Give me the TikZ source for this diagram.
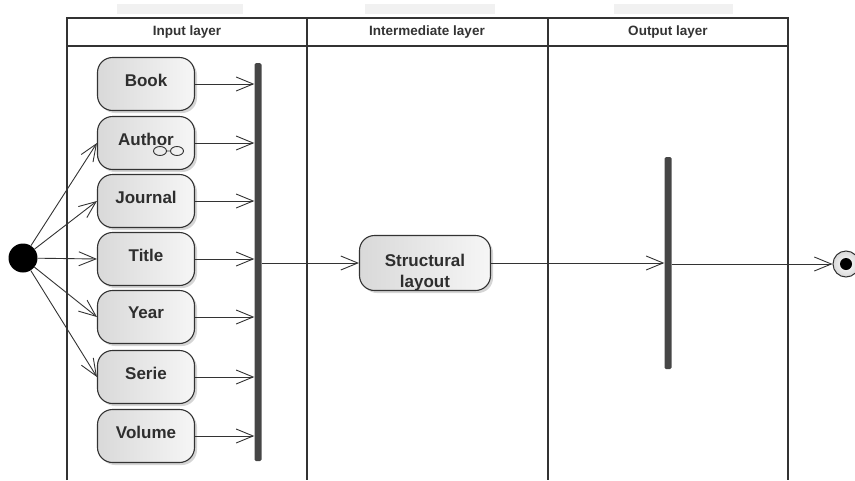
\documentclass[tikz,border=0pt]{standalone}
\usepackage{fontspec}
\setmainfont{Liberation Sans}
\usepackage{tikz}
\usetikzlibrary{arrows.meta, positioning, calc, shadows}
\usepackage{xcolor}
\definecolor{frame}{HTML}{333333}
\definecolor{barcol}{HTML}{464646}
\definecolor{tabgray}{HTML}{F1F1F1}

\begin{document}
\begin{tikzpicture}[x=1pt, y=-1pt,
      act/.style={draw=frame, line width=1.1pt, rounded corners=15pt, left color=gray!30, right color=gray!7,
        minimum width=97pt, minimum height=53pt, text depth=8pt, text=black!82,
        font=\fontsize{17}{21}\selectfont\bfseries,
        drop shadow={shadow xshift=2.5pt, shadow yshift=-2.5pt, fill=gray!55, opacity=0.6}},
      flow/.style={draw=frame, line width=0.9pt, -{Straight Barb[length=17pt, width=14pt, line width=0.9pt]}},
      sync/.style={fill=barcol, rounded corners=1.5pt, minimum width=7pt, inner sep=0pt},
      lane/.style={draw=frame, line width=1.3pt},
      lanetitle/.style={font=\fontsize{13.5}{15}\selectfont\bfseries, text=black!80}
    ]
      \useasboundingbox (0,0) rectangle (855,480);
      % faint tabs above the lanes
      \fill[tabgray] (117,4) rectangle (243,14);
      \fill[tabgray] (365,4) rectangle (495,14);
      \fill[tabgray] (614,4) rectangle (733,14);

      % swimlanes
      \draw[lane] (67,480) -- (67,18) -- (788,18) -- (788,480);
      \draw[lane] (67,46) -- (788,46);
      \draw[lane] (307,18) -- (307,480);
      \draw[lane] (548,18) -- (548,480);
      \node[lanetitle] (lin) at (187,32) {Input layer};
      \node[lanetitle] (lmid) at (427,32) {Intermediate layer};
      \node[lanetitle] (lout) at (668,32) {Output layer};

      % input activities
      \node[act] (book) at (146,84) {Book};
      \node[act] (author) at (146,143) {Author};
      \node[act] (journal) at (146,201) {Journal};
      \node[act] (title) at (146,259) {Title};
      \node[act] (year) at (146,317) {Year};
      \node[act] (serie) at (146,377) {Serie};
      \node[act] (volume) at (146,436) {Volume};
      \draw[frame, line width=0.9pt] ($(author)+(14,8)$) ellipse (6.5 and 4.5) ($(author)+(31,8)$) ellipse (6.5 and 4.5)
        ($(author)+(20.5,8)$) -- ($(author)+(24.5,8)$);

      \node[sync, minimum height=398pt] (inbar) at (258,262) {};
      \node[act, minimum width=131pt, minimum height=55pt, text depth=0pt] (layout) at (425,263)
        {\raisebox{-3pt}{\begin{tabular}{@{}c@{}}Structural\\layout\end{tabular}}};
      \node[sync, minimum height=212pt] (outbar) at (668,263) {};

      \node[circle, fill=black, minimum size=29pt, inner sep=0pt] (start) at (23,258) {};
      \node[circle, draw=frame, line width=1pt, inner color=white, outer color=gray!30, minimum size=26pt, inner sep=0pt] (stop) at (846,264) {};
      \fill[black] (stop) circle (6);

      % flows
      \draw[flow] (start) -- (author.west);
      \draw[flow] (start) -- (journal.west);
      \draw[flow] (start) -- (title.west);
      \draw[flow] (start) -- (year.west);
      \draw[flow] (start) -- (serie.west);

      \draw[flow] (book.east) -- (book.east -| inbar.west);
      \draw[flow] (author.east) -- (author.east -| inbar.west);
      \draw[flow] (journal.east) -- (journal.east -| inbar.west);
      \draw[flow] (title.east) -- (title.east -| inbar.west);
      \draw[flow] (year.east) -- (year.east -| inbar.west);
      \draw[flow] (serie.east) -- (serie.east -| inbar.west);
      \draw[flow] (volume.east) -- (volume.east -| inbar.west);

      \draw[flow] (layout.west -| inbar.east) -- (layout.west);
      \draw[flow] (layout.east) -- (layout.east -| outbar.west);
      \draw[flow] (stop -| outbar.east) -- (stop);
    \end{tikzpicture}
\end{document}
